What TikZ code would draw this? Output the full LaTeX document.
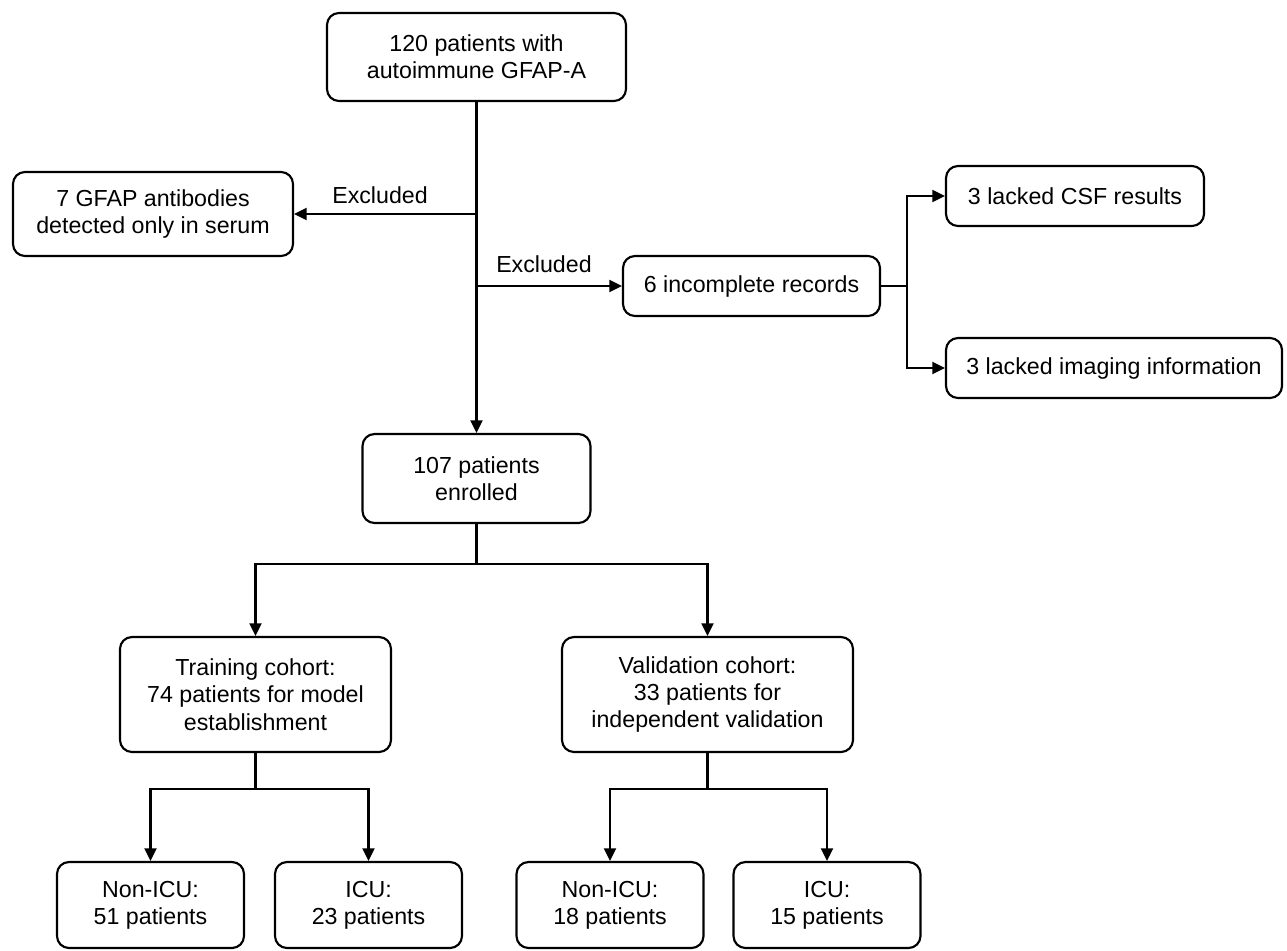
\documentclass[tikz,border=0pt]{standalone}
\usepackage{fontspec}
\setmainfont{Liberation Sans}
\usetikzlibrary{arrows.meta}
\begin{document}
\begin{tikzpicture}[x=0.75pt,y=-0.75pt,
  box/.style={draw, line width=1.6pt, rounded corners=9pt, align=center, inner sep=0pt,
              font=\fontsize{17.4}{20.5}\selectfont},
  conn/.style={line width=1.6pt},
  arr/.style={conn, -{Triangle[length=9.5pt,width=9pt]}},
  lbl/.style={font=\fontsize{17.4}{20.5}\selectfont, inner sep=0pt}]
\useasboundingbox (0,0) rectangle (1287,950);
% boxes
\node[box, minimum width=224.25pt, minimum height=66pt] (top) at (476.5,57) {120 patients with\\autoimmune GFAP-A};
\node[box, minimum width=210pt, minimum height=63pt] (gfap) at (153,214) {7 GFAP antibodies\\detected only in serum};
\node[box, minimum width=192.75pt, minimum height=45pt] (inc) at (751.5,286) {6 incomplete records};
\node[box, minimum width=193.5pt, minimum height=45pt] (csf) at (1075,196) {3 lacked CSF results};
\node[box, minimum width=252pt, minimum height=45pt] (img) at (1114,368) {3 lacked imaging information};
\node[box, minimum width=171pt, minimum height=66.75pt] (enr) at (476.5,478.5) {107 patients\\enrolled};
\node[box, minimum width=203.25pt, minimum height=86.25pt] (train) at (255.5,694.5) {Training cohort:\\74 patients for model\\establishment};
\node[box, minimum width=218.25pt, minimum height=86.25pt] (valid) at (707.5,694.5) {Validation cohort:\\33 patients for\\independent validation};
\node[box, minimum width=140.25pt, minimum height=64.5pt] (n1) at (150.5,905) {Non-ICU:\\51 patients};
\node[box, minimum width=140.25pt, minimum height=64.5pt] (i1) at (368.5,905) {ICU:\\23 patients};
\node[box, minimum width=140.25pt, minimum height=64.5pt] (n2) at (610,905) {Non-ICU:\\18 patients};
\node[box, minimum width=140.25pt, minimum height=64.5pt] (i2) at (827,905) {ICU:\\15 patients};
% labels
\node[lbl, anchor=base] (ex1) at (380,203) {Excluded};
\node[lbl, anchor=base west] (ex2) at (496,272) {Excluded};
% branch coordinates
\coordinate (b1) at (476.5,214);
\coordinate (b2) at (476.5,286);
\coordinate (j) at (907,286);
\coordinate (s) at (476.5,564);
\coordinate (ts) at (255.5,789);
\coordinate (vs) at (707.5,789);
% connectors
\draw[arr] (top.south) -- (enr.north);
\draw[arr] (b1) -- (gfap.east);
\draw[arr] (b2) -- (inc.west);
\draw[conn] (inc.east) -- (j);
\draw[arr] (j) |- (csf.west);
\draw[arr] (j) |- (img.west);
\draw[conn] (enr.south) -- (s);
\draw[arr] (s) -| (train.north);
\draw[arr] (s) -| (valid.north);
\draw[conn] (train.south) -- (ts);
\draw[arr] (ts) -| (n1.north);
\draw[arr] (ts) -| (i1.north);
\draw[conn] (valid.south) -- (vs);
\draw[arr] (vs) -| (n2.north);
\draw[arr] (vs) -| (i2.north);
\end{tikzpicture}
\end{document}
